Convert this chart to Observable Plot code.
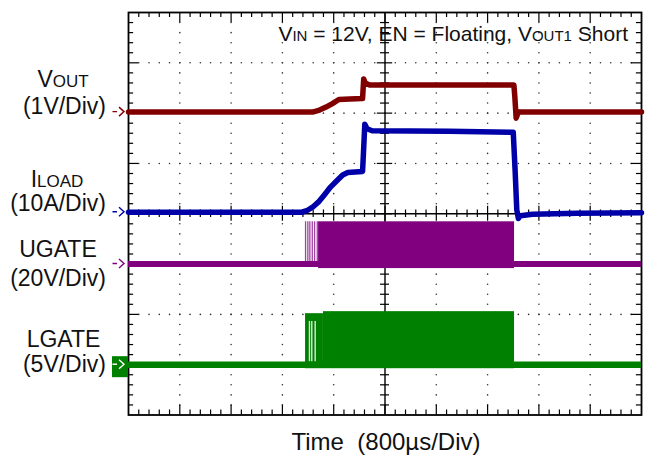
<!DOCTYPE html>
<html><head><meta charset="utf-8">
<script src="https://cdn.jsdelivr.net/npm/d3@7"></script>
<script src="https://cdn.jsdelivr.net/npm/@observablehq/plot@0.6"></script>
<style>
body{margin:0;background:#fff}
svg{display:block}
</style>
</head><body><div id="chart"></div>
<script>
// ---------- data (time in µs, 800 µs/div, 10 div) ----------
const voutT = [0, 2870, 2980, 3080, 3180, 3280, 3450, 3650, 3668, 3690, 3760, 4500, 5500, 6010, 6025, 6045, 6080, 8000];
const voutV = [0, 0, 0.04, 0.1, 0.17, 0.25, 0.26, 0.27, 0.66, 0.58, 0.54, 0.54, 0.54, 0.54, 0.3, -0.12, 0, 0];

const iloadT = [0, 2700, 2780, 2870, 2960, 3050, 3150, 3260, 3340, 3420, 3650, 3665, 3685, 3720, 3800, 5000, 6000, 6030, 6055, 6080, 6110, 6300, 7000, 8000];
const iloadA = [0, 0, 0.3, 1.0, 2.0, 3.4, 5.0, 6.4, 7.4, 7.9, 8.1, 12, 17.5, 16.6, 16.2, 16.1, 15.9, 8, 0.5, -1.25, -0.7, -0.4, -0.2, -0.1];

const ugateBlockT = [2964, 6020];
const ugateBlockV = [-1.8, 16.8];
const ugatePulseT = [2761, 2797, 2828, 2866, 2902, 2944];

const lgateBlockT = [2761, 3040, 6020];
const lgateTopV = [5.07, 5.27];
const lgateLowV = -0.4;
const lgateGapT = [2822, 2858, 2911];

const channelNames = ["V", "I", "UGATE", "LGATE"];
const channelSubs = ["OUT", "LOAD", "", ""];
const channelScales = ["(1V/Div)", "(10A/Div)", "(20V/Div)", "(5V/Div)"];
const channelPerDiv = [1, 10, 20, 5];
const channelOffsetDiv = [2.02, 0.03, -1.0, -3.0];
const channelColors = ["#800000", "#0000a8", "#800080", "#008000"];

const titleParts = ["V", "IN", " = 12V, EN = Floating, V", "OUT1", " Short"];
const timeLabel = "Time\u00a0 (800\u00b5s/Div)";

// ---------- helpers ----------
const DIV = 800, MINOR = 160;
const toDiv = (ch, v) => channelOffsetDiv[ch] + v / channelPerDiv[ch];

const xTicks = d3.range(1, 50).map(i => ({x: i * MINOR, major: i % 5 === 0}));
const yTicks = d3.range(1, 40).map(j => ({y: -4 + j * 0.2, major: j % 5 === 0}));
const vDots = [];
for (const k of [1, 2, 3, 4, 6, 7, 8, 9]) for (const j of d3.range(1, 40)) vDots.push({x: k * DIV, y: -4 + j * 0.2});
const hDots = [];
for (const m of [-3, -2, -1, 1, 2, 3]) for (const i of d3.range(1, 50)) hDots.push({x: i * MINOR, y: m});

const voutData = voutT.map((t, i) => ({t, y: toDiv(0, voutV[i])}));
const iloadData = iloadT.map((t, i) => ({t, y: toDiv(1, iloadA[i])}));

const lgateRects = [
  {x1: lgateBlockT[0], x2: lgateBlockT[1], y1: toDiv(3, lgateLowV), y2: toDiv(3, lgateTopV[0])},
  {x1: lgateBlockT[1], x2: lgateBlockT[2], y1: toDiv(3, lgateLowV), y2: toDiv(3, lgateTopV[1])}
];

const plot = Plot.plot({
  width: 653, height: 459,
  marginLeft: 128, marginRight: 12, marginTop: 12, marginBottom: 44.5,
  x: {domain: [0, 8000], axis: null},
  y: {domain: [-4, 4], axis: null},
  style: {background: "#fff", overflow: "visible"},
  marks: [
    Plot.dot(vDots, {x: "x", y: "y", r: 0.8, fill: "#333", stroke: "none"}),
    Plot.dot(hDots, {x: "x", y: "y", r: 0.8, fill: "#333", stroke: "none"}),
    Plot.ruleX([4000], {stroke: "#000", strokeWidth: 1.4}),
    Plot.ruleY([0], {stroke: "#000", strokeWidth: 1.4}),
    // edge ticks
    Plot.ruleX(xTicks, {x: "x", y1: 4, y2: d => 4 - (d.major ? 0.2 : 0.1), stroke: "#000", strokeWidth: 1.2}),
    Plot.ruleX(xTicks, {x: "x", y1: -4, y2: d => -4 + (d.major ? 0.2 : 0.1), stroke: "#000", strokeWidth: 1.2}),
    Plot.ruleY(yTicks, {y: "y", x1: 0, x2: d => (d.major ? 160 : 80), stroke: "#000", strokeWidth: 1.2}),
    Plot.ruleY(yTicks, {y: "y", x1: 8000, x2: d => 8000 - (d.major ? 160 : 80), stroke: "#000", strokeWidth: 1.2}),
    // centre axis ticks
    Plot.ruleY(yTicks, {y: "y", x1: d => 4000 - (d.major ? 120 : 70), x2: d => 4000 + (d.major ? 120 : 70), stroke: "#000", strokeWidth: 1.2}),
    Plot.ruleX(xTicks, {x: "x", y1: d => -(d.major ? 0.15 : 0.075), y2: d => (d.major ? 0.15 : 0.075), stroke: "#000", strokeWidth: 1.2}),
    Plot.frame({stroke: "#000", strokeWidth: 1.8}),
    // UGATE
    Plot.ruleY([toDiv(2, 0)], {x1: 0, x2: 8000, stroke: channelColors[2], strokeWidth: 6}),
    Plot.ruleX(ugatePulseT, {x: d => d, y1: toDiv(2, 0), y2: toDiv(2, ugateBlockV[1]), stroke: channelColors[2], strokeWidth: 1.3, strokeOpacity: 0.75}),
    Plot.rect([0], {x1: ugateBlockT[0], x2: ugateBlockT[1], y1: toDiv(2, ugateBlockV[0]), y2: toDiv(2, ugateBlockV[1]), fill: channelColors[2]}),
    // LGATE
    Plot.ruleY([toDiv(3, 0)], {x1: 0, x2: 8000, stroke: channelColors[3], strokeWidth: 6.5}),
    Plot.rect(lgateRects, {x1: "x1", x2: "x2", y1: "y1", y2: "y2", fill: channelColors[3]}),
    Plot.ruleX(lgateGapT, {x: d => d, y1: toDiv(3, 0.3), y2: toDiv(3, 4.3), stroke: "#d8ecd8", strokeWidth: 1.4}),
    // ILOAD
    Plot.line(iloadData, {x: "t", y: "y", stroke: channelColors[1], strokeWidth: 5.5, strokeLinejoin: "round"}),
    // VOUT
    Plot.line(voutData, {x: "t", y: "y", stroke: channelColors[0], strokeWidth: 5.5, strokeLinejoin: "round"})
  ]
});

document.getElementById("chart").appendChild(plot);

const svg = d3.select(plot);
const ys = plot.scale("y");
const FONT = "'Liberation Sans', Arial, sans-serif";

// channel labels and ground markers
const namePos = [[63, 87], [57, 187], [58, 257], [63.5, 347]];
const scalePos = [113.5, 211, 285.5, 372];
channelNames.forEach((nm, i) => {
  const t = svg.append("text").attr("x", namePos[i][0]).attr("y", namePos[i][1])
    .attr("text-anchor", "middle").attr("font-family", FONT).attr("font-size", 23).attr("fill", "#111");
  t.append("tspan").text(nm);
  if (channelSubs[i]) t.append("tspan").attr("font-size", 17).text(channelSubs[i]);
  svg.append("text").attr("x", 106).attr("y", scalePos[i]).attr("text-anchor", "end")
    .attr("font-family", FONT).attr("font-size", 23).attr("fill", "#111").text(channelScales[i]);
  const gy = ys.apply(channelOffsetDiv[i]);
  if (i === 3) {
    svg.append("rect").attr("x", 112).attr("y", gy - 8).attr("width", 16).attr("height", 21).attr("fill", channelColors[3]);
  }
  const c = i === 3 ? "#fff" : channelColors[i];
  svg.append("path")
    .attr("d", `M112.5,${gy}H117M119,${gy - 4.5}L124,${gy}L119,${gy + 4.5}`)
    .attr("fill", "none").attr("stroke", c).attr("stroke-width", 1.4);
});

// title
const tt = svg.append("text").attr("x", 628).attr("y", 41).attr("text-anchor", "end")
  .attr("font-family", FONT).attr("font-size", 21).attr("fill", "#111").attr("xml:space", "preserve").style("white-space", "pre");
titleParts.forEach((p, i) => tt.append("tspan").attr("font-size", i % 2 ? 15 : 21).text(p));

// time label
svg.append("text").attr("x", 386).attr("y", 450).attr("text-anchor", "middle")
  .attr("font-family", FONT).attr("font-size", 24).attr("fill", "#111").text(timeLabel);
</script></body></html>
